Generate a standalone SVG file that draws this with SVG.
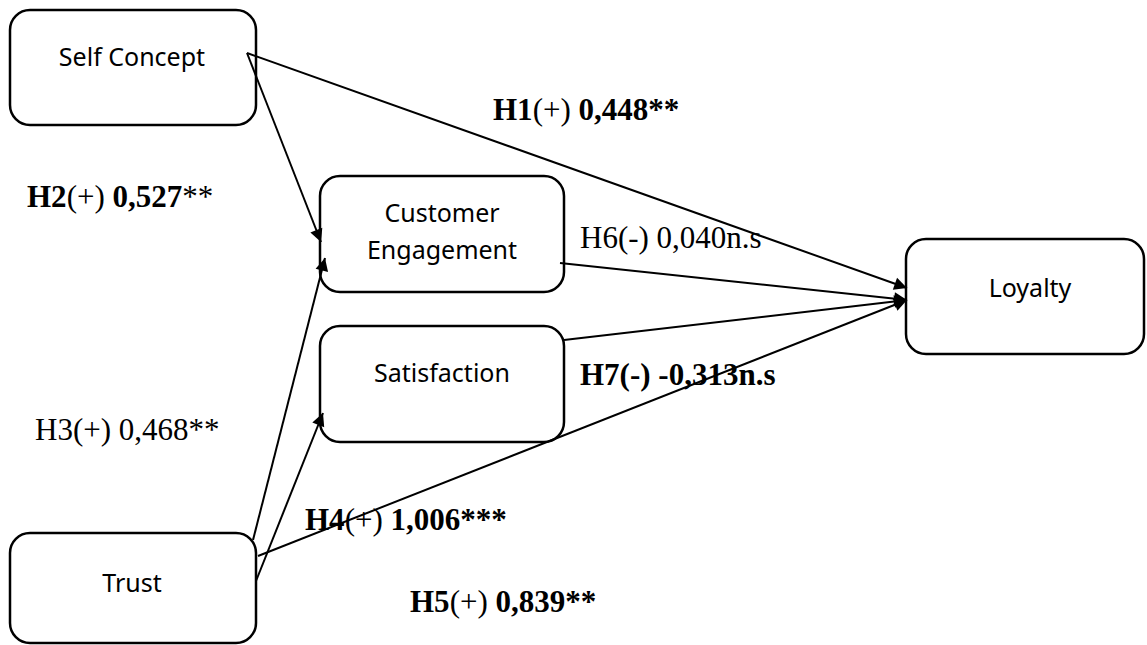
<svg xmlns="http://www.w3.org/2000/svg" width="1147" height="645" viewBox="0 0 1147 645">
<style>
.box{fill:#fff;stroke:#000;stroke-width:2.5}
.nt{font-family:"Noto Sans","Open Sans",sans-serif;font-size:25px;fill:#000;text-anchor:middle}
.lb{font-family:"Liberation Serif","Times New Roman",serif;font-size:31px;fill:#000}
.b{font-weight:bold}
.c{fill:none;stroke:#000;stroke-width:2}
</style>
<defs>
<marker id="ah" viewBox="0 0 10 10" refX="10" refY="5" markerWidth="8" markerHeight="8" markerUnits="userSpaceOnUse" orient="auto" style="overflow:visible">
<path d="M0,0 L10,5 L0,10 z" fill="#000" transform="scale(1.6)" transform-origin="10 5"/>
</marker>
</defs>
<rect width="1147" height="645" fill="#fff"/>
<g id="self-concept"><rect class="box" x="10" y="10" width="246" height="115" rx="20"/><text class="nt" x="132" y="66">Self Concept</text></g>
<g id="customer-engagement"><rect class="box" x="320" y="176" width="244" height="116" rx="20"/><text class="nt" x="442" y="222">Customer</text><text class="nt" x="442" y="259">Engagement</text></g>
<g id="satisfaction"><rect class="box" x="320" y="326" width="244" height="116" rx="20"/><text class="nt" x="442" y="382">Satisfaction</text></g>
<g id="loyalty"><rect class="box" x="906" y="239" width="238" height="115" rx="20"/><text class="nt" x="1030" y="297">Loyalty</text></g>
<g id="trust"><rect class="box" x="10" y="533" width="246" height="110" rx="20"/><text class="nt" x="132" y="592">Trust</text></g>
<g id="connectors">
<line class="c" x1="247" y1="53" x2="907" y2="288" marker-end="url(#ah)"/>
<line class="c" x1="247" y1="53" x2="321" y2="242" marker-end="url(#ah)"/>
<line class="c" x1="253" y1="540" x2="325" y2="258" marker-end="url(#ah)"/>
<line class="c" x1="256" y1="581" x2="323" y2="413" marker-end="url(#ah)"/>
<line class="c" x1="258" y1="556" x2="907" y2="300" marker-end="url(#ah)"/>
<line class="c" x1="560" y1="263" x2="907" y2="300" marker-end="url(#ah)"/>
<line class="c" x1="564" y1="340" x2="907" y2="300" marker-end="url(#ah)"/>
</g>
<g id="labels">
<text class="lb" x="493" y="120"><tspan class="b">H1</tspan>(+) <tspan class="b">0,448**</tspan></text>
<text class="lb" x="27" y="207"><tspan class="b">H2</tspan>(+) <tspan class="b">0,527</tspan>**</text>
<text class="lb" x="580" y="248">H6(-) 0,040n.s</text>
<text class="lb b" x="580" y="385">H7(-) -0,313n.s</text>
<text class="lb" x="35" y="440">H3(+) 0,468**</text>
<text class="lb" x="305" y="530"><tspan class="b">H4</tspan>(+) <tspan class="b">1,006***</tspan></text>
<text class="lb" x="410" y="612"><tspan class="b">H5</tspan>(+) <tspan class="b">0,839**</tspan></text>
</g>
</svg>
